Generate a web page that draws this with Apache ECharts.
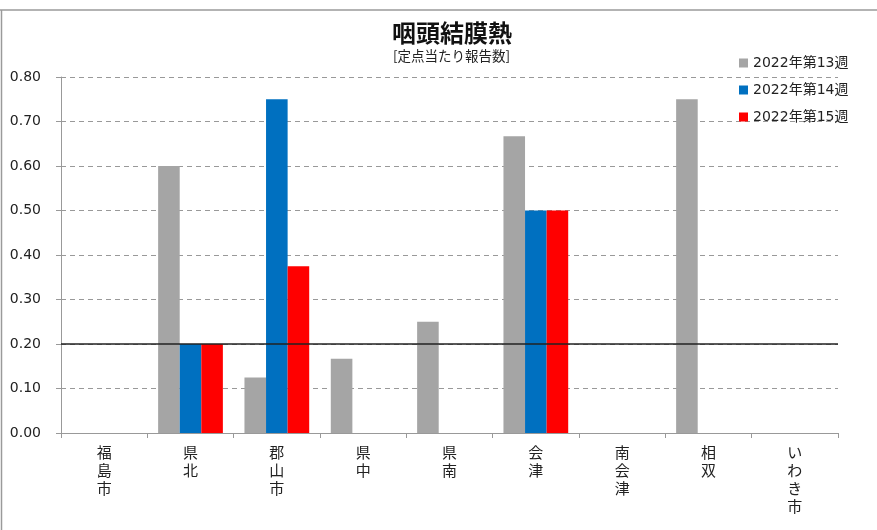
<!DOCTYPE html>
<html><head><meta charset="utf-8">
<script src="https://cdn.jsdelivr.net/npm/echarts@6/dist/echarts.min.js"></script>
<style>html,body{margin:0;padding:0;background:#fff}#c{width:877px;height:530px}</style>
</head><body><div id="c"></div>
<script>
const categories = ['福島市','県北','郡山市','県中','県南','会津','南会津','相双','いわき市'];
const seriesNames = ['2022年第13週','2022年第14週','2022年第15週'];
const week13 = [0, 0.60, 0.125, 0.167, 0.25, 0.667, 0, 0.75, 0];
const week14 = [0, 0.20, 0.75, 0, 0, 0.50, 0, 0, 0];
const week15 = [0, 0.20, 0.375, 0, 0, 0.50, 0, 0, 0];
const referenceValue = 0.20;
const colors = ['#A5A5A5','#0070C0','#FF0000'];

const chart = echarts.init(document.getElementById('c'));
const data = [week13, week14, week15];
chart.setOption({
  animation:false,
  textStyle:{fontFamily:'DejaVu Sans, Noto Sans CJK JP'},
  graphic:[
    {type:'line',shape:{x1:0,y1:10,x2:877,y2:10},style:{stroke:'#9a9a9a',lineWidth:1.5}},
    {type:'line',shape:{x1:1.5,y1:10,x2:1.5,y2:530},style:{stroke:'#9a9a9a',lineWidth:1.5}},
    {type:'text',left:392,top:21,style:{text:'咽頭結膜熱',font:'bold 24px "Noto Sans CJK JP"',fill:'#111'}},
    {type:'text',left:393,top:49,style:{text:'[定点当たり報告数]',font:'13.5px "Noto Sans CJK JP"',fill:'#222'}}
  ],
  legend:{
    orient:'vertical', left:734, top:51, itemWidth:9, itemHeight:9, itemGap:13,
    icon:'rect',
    textStyle:{fontSize:14, color:'#222', fontFamily:'DejaVu Sans, Noto Sans CJK JP'},
    data:seriesNames
  },
  grid:{left:61,right:39,top:77,bottom:97,containLabel:false},
  xAxis:{
    type:'category', data:categories,
    axisLine:{lineStyle:{color:'#999'}},
    axisTick:{show:true,length:5,lineStyle:{color:'#999'}},
    axisLabel:{interval:0,margin:10,fontSize:15,lineHeight:18,color:'#222',
      fontFamily:'Noto Sans CJK JP',
      formatter:v=>v.split('').join('\n')},
    splitLine:{show:false}
  },
  yAxis:{
    type:'value', min:0, max:0.8, interval:0.1,
    axisLine:{show:true,lineStyle:{color:'#999'}},
    axisTick:{show:true,length:5,lineStyle:{color:'#999'}},
    axisLabel:{margin:20,fontSize:14,color:'#222',formatter:v=>v.toFixed(2)},
    splitLine:{show:true,lineStyle:{type:[5,4],color:'#999',width:1}}
  },
  series:data.map((d,i)=>({
    name:seriesNames[i], type:'bar', data:d,
    itemStyle:{color:colors[i]},
    barGap:'0%', barCategoryGap:'25%',
    markLine: i===0 ? {
      silent:true, symbol:['none','none'], label:{show:false},
      lineStyle:{color:'#222',type:'solid',width:1.5},
      data:[{yAxis:referenceValue}]
    } : undefined
  }))
});
</script></body></html>
